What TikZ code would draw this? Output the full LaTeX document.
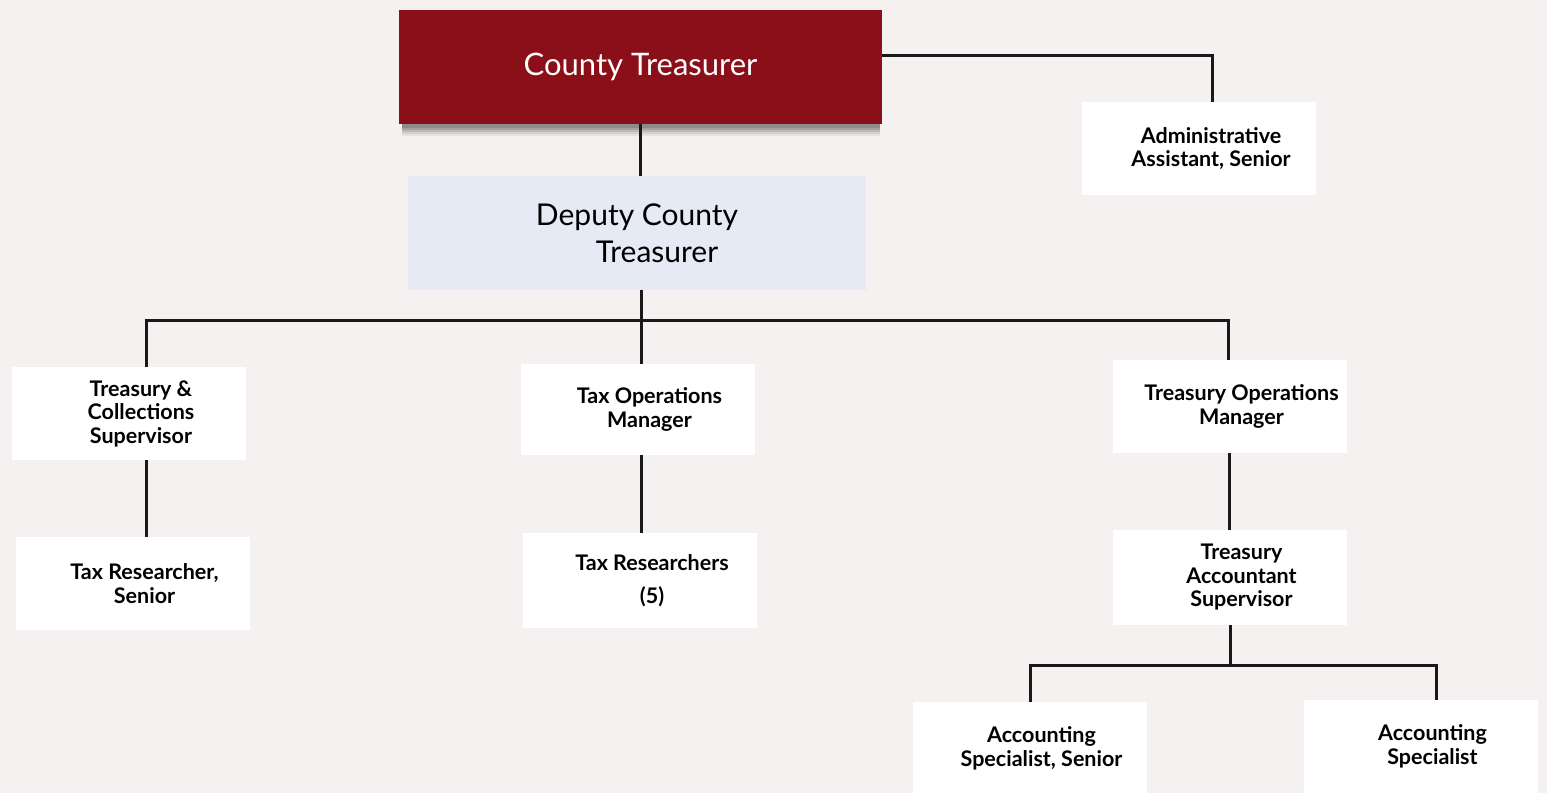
\documentclass[tikz,border=0pt]{standalone}
\usepackage{fontspec}
\setmainfont{Lato}
\definecolor{pagebg}{HTML}{F5F1F0}
\definecolor{chiefred}{HTML}{8A0F19}
\definecolor{deputyblue}{HTML}{E5EAF5}
\tikzset{
  box/.style={fill=white, minimum width=234, minimum height=93, inner sep=0},
  lbl/.style={font=\fontsize{21.5}{23.5}\selectfont\bfseries, align=center, xshift=12, text=black},
  wire/.style={line width=3pt, black!90},
}
\begin{document}
\begin{tikzpicture}[x=1pt, y=-1pt]
\useasboundingbox (0,0) rectangle (1547,793);
\fill[pagebg] (0,0) rectangle (1547,793);

% soft shadow under the top box
\foreach \d/\o in {12/0.06, 10/0.08, 8/0.10, 6/0.12, 4/0.14}
  \fill[black, opacity=\o] (402,118) rectangle (880,124+\d);

% top level
\node[fill=chiefred, minimum width=483, minimum height=114, inner sep=0,
      text=white, font=\fontsize{31}{35}\selectfont] (ct) at (640.5,67) {County Treasurer};
\node[fill=deputyblue, minimum width=458, minimum height=114, inner sep=0,
      font=\fontsize{30}{37}\selectfont, align=left] (dep) at (637,233)
      {Deputy County\\\hspace*{60pt}Treasurer};
\node[box, label={[lbl]center:{Administrative\\Assistant, Senior}}] (adm) at (1199,148.5) {};

% second level
\node[box, label={[lbl]center:{Treasury \&\\Collections\\Supervisor}}] (tcs) at (129,413.5) {};
\node[box, minimum height=91, label={[lbl]center:{Tax Operations\\Manager}}] (tom) at (637.5,409.5) {};
\node[box, label={[lbl]center:{Treasury Operations\\Manager}}] (trom) at (1229.5,406.5) {};

% third level
\node[box, label={[lbl]center:{Tax Researcher,\\Senior}}] (trs) at (132.5,583.5) {};
\node[box, minimum height=95, label={[lbl]center:{Tax Researchers\\[9pt](5)}}] (tr5) at (640,580.5) {};
\node[box, minimum height=95, label={[lbl]center:{Treasury\\Accountant\\Supervisor}}] (tas) at (1229.5,577.5) {};

% fourth level
\node[box, label={[lbl]center:{Accounting\\Specialist, Senior}}] (ass) at (1029.5,748.5) {};
\node[box, label={[lbl]center:{Accounting\\Specialist}}] (as) at (1420.5,746.5) {};

% connectors
\coordinate (bus) at (641,320);
\coordinate (bus2) at (1230,665);
\draw[wire] (ct.south) -- (ct.south |- dep.north);
\draw[wire] ([yshift=12pt]ct.east) -| ([xshift=13pt]adm.north);
\draw[wire] (dep.south -| bus) -- (bus);
\draw[wire] ([xshift=17pt]tcs.north) |- (bus) -| ([xshift=-1.5pt]trom.north);
\draw[wire] (tom.north -| bus) -- (bus);
\draw[wire] ([xshift=17pt]tcs.south) -- ([xshift=17pt]tcs.south |- trs.north);
\draw[wire] (tom.south -| bus) -- (tr5.north -| bus);
\draw[wire] (trom.south) -- (tas.north);
\draw[wire] (tas.south -| bus2) -- (bus2);
\draw[wire] ([xshift=0.5pt]ass.north) |- (bus2) -| ([xshift=15.5pt]as.north);
\end{tikzpicture}
\end{document}
